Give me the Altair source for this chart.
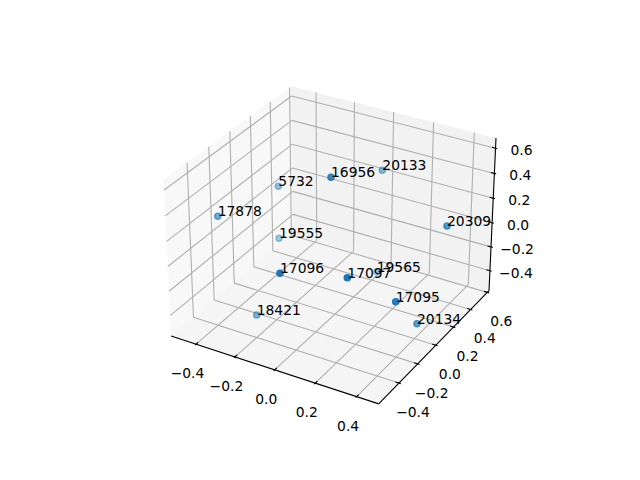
import numpy as np
import pandas as pd
import altair as alt

# scatter points (screen position and depth shading)
labels = ["19565", "19555", "5732", "20133", "18421", "17878", "20134", "20309", "16956", "17095", "17096", "17097"]
point_x = [376.7, 279.0, 278.3, 382.3, 256.7, 217.7, 417.0, 447.0, 331.0, 395.7, 280.0, 347.3]
point_y = [271.7, 238.3, 186.3, 170.3, 315.0, 216.3, 323.7, 226.0, 177.3, 301.7, 273.3, 277.7]
point_alpha = [0.3, 0.4, 0.45, 0.5, 0.55, 0.6, 0.7, 0.75, 0.85, 0.95, 1.0, 1.0]

# 3D box limits and ticks
xlim = (-0.53, 0.505)
ylim = (-0.61, 0.62)
zlim = (-0.57, 0.68)
x_ticks = [-0.4, -0.2, 0.0, 0.2, 0.4]
y_ticks = [-0.4, -0.2, 0.0, 0.2, 0.4, 0.6]
z_ticks = [-0.4, -0.2, 0.0, 0.2, 0.4, 0.6]

elev, azim, dist = np.radians(30), np.radians(-60), 10.0
aspect = np.array([4.0, 4.0, 3.0])
aspect = aspect * 1.8294640721620434 * 25 / 24 / np.linalg.norm(aspect)
R = aspect / 2
E = R + dist * np.array([np.cos(elev) * np.cos(azim), np.cos(elev) * np.sin(azim), np.sin(elev)])
w = (E - R) / np.linalg.norm(E - R)
u = np.cross([0, 0, 1], w)
u = u / np.linalg.norm(u)
v = np.cross(w, u)
lims = np.array([xlim, ylim, zlim])


def proj(x, y, z):
    p = (np.array([x, y, z]) - lims[:, 0]) / (lims[:, 1] - lims[:, 0]) * aspect - E
    d = -np.dot(w, p)
    xp, yp = np.dot(u, p) / d, np.dot(v, p) / d
    return 143.2 + (xp + 0.095) / 0.185 * 369.6, 480 - (52.8 + (yp + 0.095) / 0.185 * 369.6)


x0, x1 = xlim
y0, y1 = ylim
z0, z1 = zlim
dx, dy = (x1 - x0) / 12, (y1 - y0) / 12


def seg(a, b):
    (ax, ay), (bx, by) = proj(*a), proj(*b)
    return {"x": ax, "y": ay, "x2": bx, "y2": by}


grid, ink, tick_text = [], [], []


def fmt(t):
    return f"{t:.1f}".replace("-", "\u2212")


for t in x_ticks:
    grid += [seg((t, y0, z0), (t, y1, z0)), seg((t, y1, z0), (t, y1, z1))]
    ink.append(seg((t, y0 - 0.1 * dy, z0), (t, y0 + 0.2 * dy, z0)))
    px, py = proj(t, y0, z0)
    tick_text.append({"x": px - 8.5, "y": py + 30, "t": fmt(t)})
for t in y_ticks:
    grid += [seg((x1, t, z0), (x0, t, z0)), seg((x0, t, z0), (x0, t, z1))]
    ink.append(seg((x1 + 0.1 * dx, t, z0), (x1 - 0.2 * dx, t, z0)))
    px, py = proj(x1, t, z0)
    tick_text.append({"x": px + 14, "y": py + 30, "t": fmt(t)})
for t in z_ticks:
    grid += [seg((x0, y0, t), (x0, y1, t)), seg((x0, y1, t), (x1, y1, t))]
    ink.append(seg((x1 + 0.1 * dx, y1, t), (x1 - 0.2 * dx, y1, t)))
    px, py = proj(x1, y1, t)
    tick_text.append({"x": px + 26, "y": py + 3, "t": fmt(t)})
ink += [seg((x0, y0, z0), (x1, y0, z0)), seg((x1, y0, z0), (x1, y1, z0)), seg((x1, y1, z0), (x1, y1, z1))]


def pane(corners):
    pts = [proj(*c) for c in corners]
    rows = []
    for X in sorted(p[0] for p in pts):
        hits = []
        for i in range(4):
            (a, b), (c, d) = pts[i], pts[(i + 1) % 4]
            if min(a, c) <= X <= max(a, c) and a != c:
                hits.append(b + (X - a) / (c - a) * (d - b))
        rows.append({"x": X, "y": min(hits), "y2": max(hits)})
    return pd.DataFrame(rows)


xs = alt.Scale(domain=[8, 632], range=[0, 624], nice=False, zero=False)
ys = alt.Scale(domain=[472, 8], nice=False, zero=False)
X = alt.X("x:Q", scale=xs, axis=None)
Y = alt.Y("y:Q", scale=ys, axis=None)

panes = [
    ([(x0, y0, z0), (x0, y1, z0), (x0, y1, z1), (x0, y0, z1)], "#f2f2f2"),
    ([(x0, y1, z0), (x1, y1, z0), (x1, y1, z1), (x0, y1, z1)], "#e6e6e6"),
    ([(x0, y0, z0), (x1, y0, z0), (x1, y1, z0), (x0, y1, z0)], "#ececec"),
]
layers = [
    alt.Chart(pane(c)).mark_area(color=col, opacity=0.5, orient="vertical", interpolate="linear").encode(
        x=X, y=Y, y2="y2:Q")
    for c, col in panes
]
layers.append(alt.Chart(pd.DataFrame(grid)).mark_rule(color="#b0b0b0", strokeWidth=1.11).encode(
    x=X, y=Y, x2="x2:Q", y2="y2:Q"))
layers.append(alt.Chart(pd.DataFrame(ink)).mark_rule(color="#000000", strokeWidth=1.11).encode(
    x=X, y=Y, x2="x2:Q", y2="y2:Q"))
layers.append(alt.Chart(pd.DataFrame(tick_text)).mark_text(
    font="DejaVu Sans", fontSize=13.89, color="#000000", align="center", baseline="middle").encode(
    x=X, y=Y, text="t:N"))
pts = pd.DataFrame({"x": point_x, "y": point_y, "a": point_alpha, "t": labels})
layers.append(alt.Chart(pts).mark_point(
    shape="circle", filled=False, fill="#1f77b4", stroke="#1f77b4", strokeWidth=1.39, size=38.6, opacity=1).encode(
    x=X, y=Y,
    fillOpacity=alt.FillOpacity("a:Q", scale=None, legend=None),
    strokeOpacity=alt.StrokeOpacity("a:Q", scale=None, legend=None),
))
layers.append(alt.Chart(pts).mark_text(
    font="DejaVu Sans", fontSize=13.89, color="#000000", align="left", baseline="alphabetic").encode(
    x=X, y=Y, text="t:N"))

chart = alt.layer(*layers).properties(
    width=624, height=464, padding=0, autosize=alt.AutoSizeParams(type="none"), background="white"
).configure_view(stroke=None)
chart.save("out.html", embed_options={"renderer": "svg", "actions": False})
